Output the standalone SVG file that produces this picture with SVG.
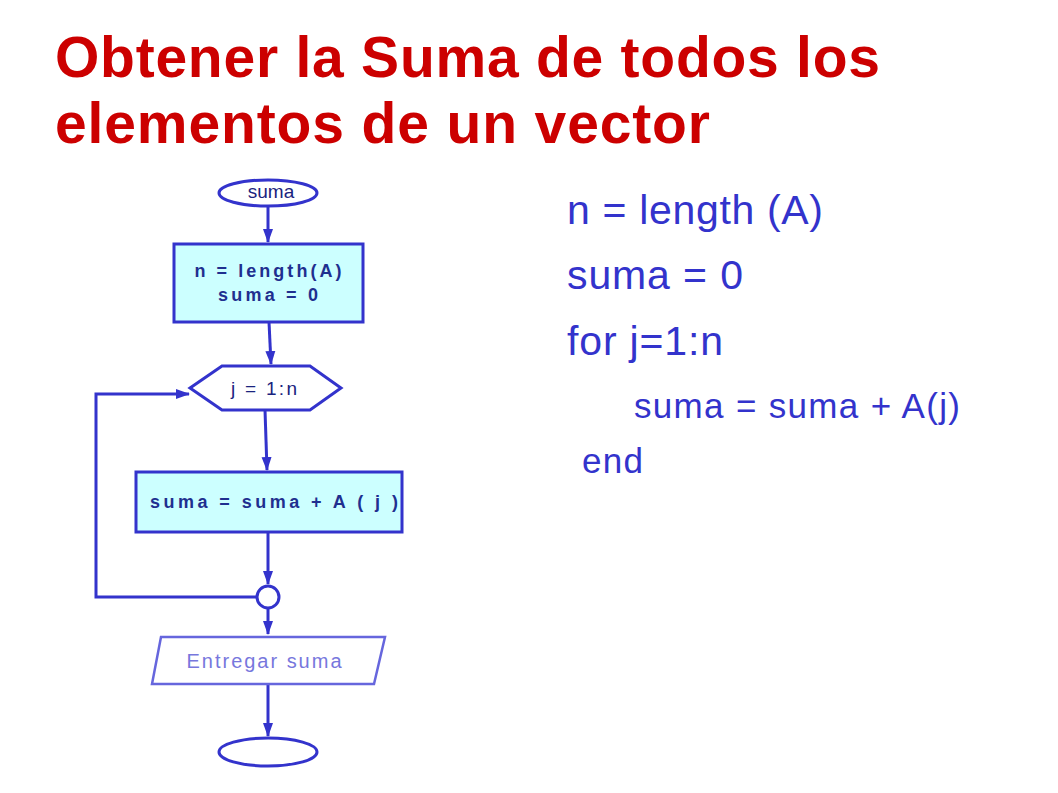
<svg xmlns="http://www.w3.org/2000/svg" width="1058" height="793" viewBox="0 0 1058 793">
<style>
.t{font-family:"Liberation Sans",Arial,sans-serif;}
.title{fill:#CC0000;font-size:57px;font-weight:bold;}
.code{fill:#3333CC;font-size:41px;}
.sh{stroke:#3333CC;stroke-width:3;}
.ln{stroke:#3333CC;stroke-width:3;fill:none;}
.nb{fill:#1f2f8f;font-size:18px;font-weight:bold;text-anchor:middle;}
.nn{fill:#1a237e;font-size:19px;text-anchor:middle;}
</style>
<defs><marker id="a" markerWidth="14" markerHeight="12" refX="13" refY="6" orient="auto" markerUnits="userSpaceOnUse"><path d="M0,1 L14,6 L0,11 z" fill="#3333CC"/></marker></defs>
<rect width="1058" height="793" fill="#fff"/>
<text class="t title" x="55" y="77" textLength="825">Obtener la Suma de todos los</text>
<text class="t title" x="55" y="143" textLength="655">elementos de un vector</text>
<g class="t code">
<text x="567" y="224" textLength="256">n = length (A)</text>
<text x="567" y="289" textLength="176">suma = 0</text>
<text x="567" y="355" textLength="156">for j=1:n</text>
<text x="634" y="418" font-size="35" textLength="326">suma = suma + A(j)</text>
<text x="582" y="473" font-size="35" textLength="61">end</text>
</g>
<g id="connectors">
<line class="ln" x1="268" y1="206" x2="268" y2="242" marker-end="url(#a)"/>
<line class="ln" x1="269" y1="322" x2="271" y2="364" marker-end="url(#a)"/>
<line class="ln" x1="265" y1="410" x2="267" y2="470" marker-end="url(#a)"/>
<line class="ln" x1="268" y1="532" x2="268" y2="584" marker-end="url(#a)"/>
<polyline class="ln" points="257,597 96,597 96,394 189,394" marker-end="url(#a)"/>
<line class="ln" x1="268" y1="608" x2="268" y2="634" marker-end="url(#a)"/>
<line class="ln" x1="268" y1="684" x2="268" y2="736" marker-end="url(#a)"/>
</g>
<g id="start"><ellipse class="sh" cx="268" cy="193" rx="49" ry="13" fill="#fff"/><text class="t nn" x="271" y="198">suma</text></g>
<g id="init"><rect class="sh" x="174" y="244" width="189" height="78" fill="#ccffff"/><text class="t nb" x="268" y="277" textLength="147">n = length(A)</text><text class="t nb" x="268" y="301" textLength="100">suma = 0</text></g>
<g id="loop"><polygon class="sh" points="190,388 222,366 310,366 341,388 310,410 222,410" fill="#fff"/><text class="t nn" x="264" y="395" font-size="18" textLength="66">j = 1:n</text></g>
<g id="sum"><rect class="sh" x="136" y="472" width="266" height="60" fill="#ccffff"/><text class="t nb" x="274" y="508" textLength="248">suma = suma + A ( j )</text></g>
<g id="join"><circle class="sh" cx="268" cy="597" r="11" fill="#fff"/></g>
<g id="output"><polygon points="161,637 385,637 374,684 152,684" fill="#fff" stroke="#6666dd" stroke-width="2.5"/><text class="t" x="264" y="668" font-size="20" fill="#7777dd" text-anchor="middle" textLength="155">Entregar suma</text></g>
<g id="end"><ellipse class="sh" cx="268" cy="752" rx="49" ry="14" fill="#fff"/></g>
</svg>
